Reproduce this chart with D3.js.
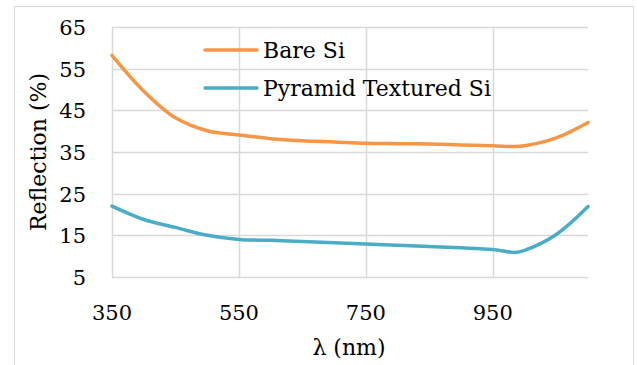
<!DOCTYPE html>
<html>
<head>
<meta charset="utf-8">
<script src="https://cdn.jsdelivr.net/npm/d3@7"></script>
<style>
  body { margin: 0; background: #fff; }
  svg { display: block; }
  text { font-family: "DejaVu Serif", serif; fill: #000; }
</style>
</head>
<body>
<svg id="chart"></svg>
<script>
// wavelengths (nm) and reflection (%)
const wavelengths = [350, 400, 450, 500, 550, 600, 650, 700, 750, 800, 850, 900, 950, 985, 1000, 1050, 1100];
const bareSi      = [58.2, 49.6, 43.2, 40.1, 39.1, 38.2, 37.7, 37.4, 37.1, 37.0, 36.9, 36.7, 36.5, 36.3, 36.5, 38.4, 42.1];
const pyramidSi   = [22.0, 18.8, 16.9, 15.0, 14.0, 13.8, 13.5, 13.2, 12.9, 12.6, 12.3, 12.0, 11.6, 10.9, 11.4, 15.2, 21.9];
const seriesNames = ["Bare Si", "Pyramid Textured Si"];
const seriesColors = ["#f79646", "#4bacc6"];
const xTicks = [350, 550, 750, 950];
const yTicks = [5, 15, 25, 35, 45, 55, 65];

const width = 637, height = 365;
const margin = {top: 27, right: 49, bottom: 88, left: 112};

const svg = d3.select("#chart")
    .attr("width", width)
    .attr("height", height);

// outer chart frame
svg.append("rect")
    .attr("x", 14.5).attr("y", 6.5)
    .attr("width", 619).attr("height", 380)
    .attr("fill", "none")
    .attr("stroke", "#d9d9d9");

const x = d3.scaleLinear().domain([350, 1100]).range([margin.left, width - margin.right]);
const y = d3.scaleLinear().domain([5, 65]).range([height - margin.bottom, margin.top]);

// gridlines
svg.append("g")
    .selectAll("line")
    .data(yTicks)
    .join("line")
    .attr("x1", x(350)).attr("x2", x(1100))
    .attr("y1", d => Math.round(y(d)) + 0.5).attr("y2", d => Math.round(y(d)) + 0.5)
    .attr("stroke", "#d9d9d9").attr("stroke-width", 1.5);

svg.append("g")
    .selectAll("line")
    .data(xTicks)
    .join("line")
    .attr("x1", d => Math.round(x(d)) + 0.5).attr("x2", d => Math.round(x(d)) + 0.5)
    .attr("y1", y(65)).attr("y2", y(5))
    .attr("stroke", "#d9d9d9").attr("stroke-width", 1.5);

// tick labels
svg.append("g")
    .selectAll("text")
    .data(yTicks)
    .join("text")
    .attr("x", 86)
    .attr("y", d => y(d) + 8)
    .attr("text-anchor", "end")
    .style("font-size", "21px")
    .text(d => d);

svg.append("g")
    .selectAll("text")
    .data(xTicks)
    .join("text")
    .attr("x", d => x(d))
    .attr("y", 320)
    .attr("text-anchor", "middle")
    .style("font-size", "21px")
    .text(d => d);

// axis titles
svg.append("text")
    .attr("x", 349).attr("y", 355)
    .attr("text-anchor", "middle")
    .style("font-size", "22px")
    .text("λ (nm)");

svg.append("text")
    .attr("transform", "translate(46,152) rotate(-90)")
    .attr("text-anchor", "middle")
    .style("font-size", "22px")
    .text("Reflection (%)");

// curves
const line = d3.line()
    .x(d => x(d[0]))
    .y(d => y(d[1]))
    .curve(d3.curveCatmullRom.alpha(0.5));

[bareSi, pyramidSi].forEach((vals, i) => {
    svg.append("path")
        .datum(wavelengths.map((w, j) => [w, vals[j]]))
        .attr("fill", "none")
        .attr("stroke", seriesColors[i])
        .attr("stroke-width", 3.5)
        .attr("stroke-linecap", "round")
        .attr("d", line);
});

// legend
const legend = svg.append("g")
    .selectAll("g")
    .data(seriesNames)
    .join("g")
    .attr("transform", (d, i) => `translate(205,${50 + i * 38})`);

legend.append("line")
    .attr("x1", 0).attr("x2", 52)
    .attr("stroke", (d, i) => seriesColors[i])
    .attr("stroke-width", 3.5)
    .attr("stroke-linecap", "round");

legend.append("text")
    .attr("x", 58).attr("y", 8)
    .style("font-size", "22px")
    .text(d => d);
</script>
</body>
</html>
